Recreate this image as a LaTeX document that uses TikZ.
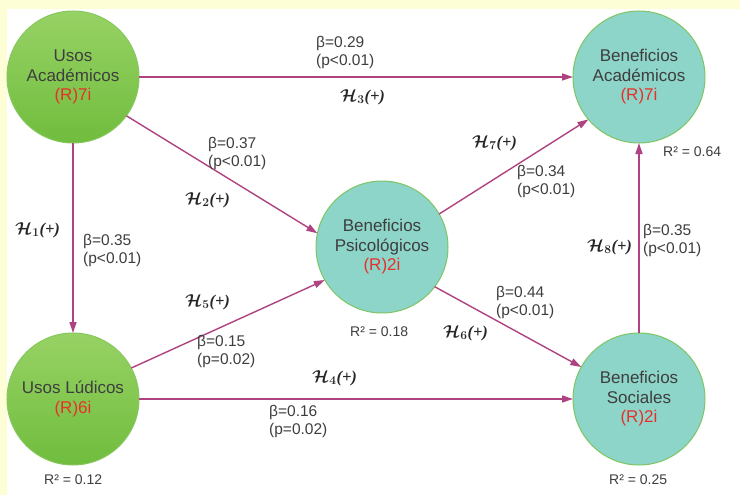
\documentclass[tikz,border=0pt]{standalone}
\usepackage{fontspec}
\setmainfont{Liberation Sans}
\newfontfamily\hypfont{Liberation Serif}
\usetikzlibrary{arrows.meta}

\definecolor{paleyellow}{HTML}{FEFED6}
\definecolor{greentop}{HTML}{97D264}
\definecolor{greenbot}{HTML}{70BD3E}
\definecolor{greenline}{HTML}{86C85E}
\definecolor{tealfill}{HTML}{8DD4C9}
\definecolor{tealline}{HTML}{7EC563}
\definecolor{linkcol}{HTML}{AF4381}
\definecolor{txtgray}{HTML}{3E3E3E}
\definecolor{redtxt}{HTML}{E8302A}

\newcommand{\hypo}[1]{{\boldmath$\mathcal{H}_{\mathbf{#1}}$}{\hypfont\bfseries\itshape(+)}}
\newcommand{\refl}[1]{\textcolor{redtxt}{#1}}

\begin{document}
\begin{tikzpicture}[
  x=1pt,y=-1pt,
  >={Triangle[length=11pt,width=7pt]},
  usos/.style={circle,draw=greenline,line width=1pt,top color=greentop,bottom color=greenbot,
    minimum size=132pt,inner sep=0pt,outer sep=0pt,align=center,text=txtgray,
    font=\fontsize{17}{19.5}\selectfont},
  benef/.style={usos,top color=tealfill,bottom color=tealfill,draw=tealline},
  link/.style={->,draw=linkcol,line width=1.4pt},
  coef/.style={anchor=west,align=left,inner sep=0pt,text=txtgray,
    font=\fontsize{15.5}{18}\selectfont},
  hyp/.style={anchor=west,inner sep=0pt,text=black!85,font=\fontsize{16.5}{18}\selectfont},
  rsq/.style={anchor=west,inner sep=0pt,text=txtgray,font=\fontsize{14}{16}\selectfont}
]
  \useasboundingbox (0,0) rectangle (740,495);
  \fill[paleyellow] (0,0) rectangle (740,495);
  \fill[white] (7,9) rectangle (740,495);

  % constructs
  \node[usos] (ua) at (73,77) {Usos\\Académicos\\\refl{(R)7i}};
  \node[usos] (ul) at (73,399) {Usos Lúdicos\\\refl{(R)6i}};
  \node[benef] (bp) at (382,247) {Beneficios\\Psicológicos\\\refl{(R)2i}};
  \node[benef] (ba) at (639,77) {Beneficios\\Académicos\\\refl{(R)7i}};
  \node[benef] (bs) at (639,399) {Beneficios\\Sociales\\\refl{(R)2i}};

  % paths
  \draw[link] (ua) -- (ul);
  \draw[link] (ua.-36) -- (bp.168);
  \draw[link] (ua) -- (ba);
  \draw[link] (ul) -- (bs);
  \draw[link] (ul.28) -- (bp.210);
  \draw[link] (bp.-37) -- (bs.151);
  \draw[link] (bp.30) -- (ba.220);
  \draw[link] (bs) -- (ba);

  % coefficients
  \node[coef] (c-ua-ba) at (316,52) {β=0.29\\(p<0.01)};
  \node[coef] (c-ua-bp) at (208,153) {β=0.37\\(p<0.01)};
  \node[coef] (c-ua-ul) at (83,250) {β=0.35\\(p<0.01)};
  \node[coef] (c-ul-bp) at (197,351) {β=0.15\\(p=0.02)};
  \node[coef] (c-ul-bs) at (269,421) {β=0.16\\(p=0.02)};
  \node[coef] (c-bp-bs) at (496,302) {β=0.44\\(p<0.01)};
  \node[coef] (c-bp-ba) at (517,181) {β=0.34\\(p<0.01)};
  \node[coef] (c-bs-ba) at (643,240) {β=0.35\\(p<0.01)};

  % hypotheses
  \node[hyp] (h1) at (15,230) {\hypo{1}};
  \node[hyp] (h2) at (185,200) {\hypo{2}};
  \node[hyp] (h3) at (340,97) {\hypo{3}};
  \node[hyp] (h4) at (312,378) {\hypo{4}};
  \node[hyp] (h5) at (185,302) {\hypo{5}};
  \node[hyp] (h6) at (443,333) {\hypo{6}};
  \node[hyp] (h7) at (472,143) {\hypo{7}};
  \node[hyp] (h8) at (587,247) {\hypo{8}};

  % explained variance
  \node[rsq] (r-ba) at (663,152) {R² = 0.64};
  \node[rsq] (r-bp) at (350,332) {R² = 0.18};
  \node[rsq] (r-ul) at (44,480) {R² = 0.12};
  \node[rsq] (r-bs) at (609,480) {R² = 0.25};
\end{tikzpicture}
\end{document}
